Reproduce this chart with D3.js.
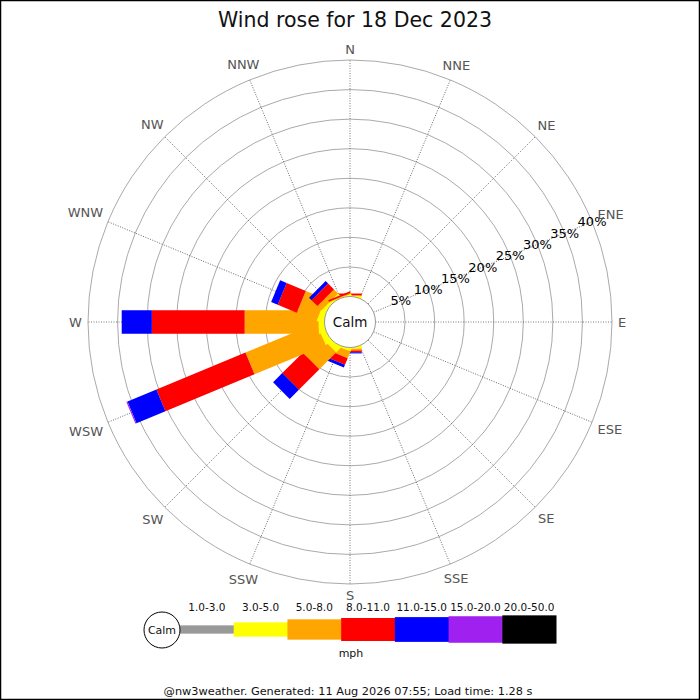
<!DOCTYPE html>
<html>
<head>
<meta charset="utf-8">
<script src="https://cdn.jsdelivr.net/npm/d3@7"></script>
<style>
  body { margin: 0; background: #fff; }
  svg { display: block; font-family: "DejaVu Sans", sans-serif; }
</style>
</head>
<body>
<div id="chart"></div>
<script>
// Wind rose, 18 Dec 2023 - percentages of time per direction and speed band
const titleText = 'Wind rose for 18 Dec 2023';
const footerText = '@nw3weather. Generated: 11 Aug 2026 07:55; Load time: 1.28 s';
const calmText = 'Calm';
const unitText = 'mph';

const directions = ['N', 'NNE', 'NE', 'ENE', 'E', 'ESE', 'SE', 'SSE',
    'S', 'SSW', 'SW', 'WSW', 'W', 'WNW', 'NW', 'NNW'];
const speedBins = ['1.0-3.0', '3.0-5.0', '5.0-8.0', '8.0-11.0',
    '11.0-15.0', '15.0-20.0', '20.0-50.0'];
const binColors = ['#999999', '#ffff00', '#ffa500', '#ff0000',
    '#0000ff', '#a020f0', '#000000'];

// series values, one entry per direction (N .. NNW), in %
const pct1to3 =   [0,   0, 0, 0, 0, 0, 0, 0, 0,   0,   0,   0,    0,    0,   0,   0];
const pct3to5 =   [0.1, 0, 0, 0, 0, 0, 0, 0, 0.2, 0.3, 1.0, 1.0,  1.0,  1.0, 0.5, 0.1];
const pct5to8 =   [0.1, 0, 0, 0, 0, 0, 0, 0, 0.3, 1.2, 4.0, 13.0, 12.5, 3.6, 1.0, 0.1];
const pct8to11 =  [0.3, 0, 0, 0, 0, 0, 0, 0, 0.3, 1.2, 4.9, 16.3, 15.7, 3.5, 1.4, 0.3];
const pct11to15 = [0,   0, 0, 0, 0, 0, 0, 0, 0.2, 0.5, 2.2, 5.3,  5.1,  1.2, 0.6, 0];
const pct15to20 = [0,   0, 0, 0, 0, 0, 0, 0, 0,   0,   0,   0.2,  0,    0,   0,   0];
const pct20to50 = [0,   0, 0, 0, 0, 0, 0, 0, 0,   0,   0,   0,    0,    0,   0,   0];

const ringTicks = [5, 10, 15, 20, 25, 30, 35, 40];
const ringLabels = ['5%', '10%', '15%', '20%', '25%', '30%', '35%', '40%'];

// layout
const width = 700;
const height = 700;
const cx = 350;
const cy = 322;
const calmRadius = 25.5;
const outerRadius = 262;
const barWidth = 23.5;

const series = [pct1to3, pct3to5, pct5to8, pct8to11, pct11to15, pct15to20, pct20to50];
const rows = directions.map((dir, i) => {
    const row = {dir};
    speedBins.forEach((bin, k) => { row[bin] = series[k][i]; });
    return row;
});

const rScale = d3.scaleLinear()
    .domain([0, d3.max(ringTicks)])
    .range([calmRadius, outerRadius]);

const angleScale = d3.scalePoint()
    .domain(directions)
    .range([0, 337.5]);

const colorScale = d3.scaleOrdinal()
    .domain(speedBins)
    .range(binColors);

const stacked = d3.stack().keys(speedBins)(rows);

const svg = d3.select('#chart')
  .append('svg')
    .attr('width', width)
    .attr('height', height);

svg.append('rect')
    .attr('x', 0.5).attr('y', 0.5)
    .attr('width', width - 1).attr('height', height - 1)
    .attr('fill', '#fff')
    .attr('stroke', '#000')
    .attr('stroke-width', 1.5);

svg.append('text')
    .attr('x', 355)
    .attr('y', 26.5)
    .attr('text-anchor', 'middle')
    .attr('font-size', 20.5)
    .attr('fill', '#111')
    .text(titleText);

const rose = svg.append('g')
    .attr('transform', `translate(${cx},${cy})`);

// rings
rose.append('g').selectAll('circle')
    .data(ringTicks)
  .join('circle')
    .attr('r', d => rScale(d))
    .attr('fill', 'none')
    .attr('stroke', '#aaa')
    .attr('stroke-width', 1);

// spokes
rose.append('g').selectAll('line')
    .data(directions)
  .join('line')
    .attr('transform', d => `rotate(${angleScale(d) - 90})`)
    .attr('x1', calmRadius)
    .attr('x2', outerRadius)
    .attr('stroke', '#555')
    .attr('stroke-width', 0.8)
    .attr('stroke-dasharray', '1,1.5');

// bars
const barGroups = rose.append('g').selectAll('g')
    .data(directions)
  .join('g')
    .attr('transform', d => `rotate(${angleScale(d) - 90})`);

barGroups.each(function(dir, i) {
    const segs = stacked
        .map((layer, k) => ({key: speedBins[k], lo: layer[i][0], hi: layer[i][1], k}))
        .filter(s => s.hi > s.lo);
    const start = s => (s.k === 0 || s.lo === 0 ? 0 : rScale(s.lo));
    d3.select(this).selectAll('rect')
        .data(segs)
      .join('rect')
        .attr('x', start)
        .attr('y', -barWidth / 2)
        .attr('width', s => rScale(s.hi) - start(s))
        .attr('height', barWidth)
        .attr('fill', s => colorScale(s.key));
});

// calm circle
rose.append('circle')
    .attr('r', calmRadius)
    .attr('fill', '#fff')
    .attr('stroke', '#999')
    .attr('stroke-width', 1);

rose.append('text')
    .attr('text-anchor', 'middle')
    .attr('dominant-baseline', 'central')
    .attr('font-size', 13.5)
    .attr('fill', '#111')
    .text(calmText);

// ring labels along ENE
const labelAngle = angleScale('ENE') * Math.PI / 180;
rose.append('g').selectAll('text')
    .data(ringTicks)
  .join('text')
    .attr('x', d => rScale(d) * Math.sin(labelAngle))
    .attr('y', d => -rScale(d) * Math.cos(labelAngle))
    .attr('text-anchor', 'middle')
    .attr('dominant-baseline', 'central')
    .attr('font-size', 13)
    .attr('fill', '#000')
    .text((d, i) => ringLabels[i]);

// compass labels
rose.append('g').selectAll('text')
    .data(directions)
  .join('text')
    .attr('text-anchor', 'middle')
    .attr('dominant-baseline', 'central')
    .attr('font-size', 13)
    .attr('fill', '#555')
    .text(d => d)
    .each(function(d) {
        const a = angleScale(d) * Math.PI / 180;
        const box = this.getBBox();
        const r = outerRadius + 6 + box.width / 2 * Math.abs(Math.sin(a)) + 5 * Math.abs(Math.cos(a));
        d3.select(this)
            .attr('x', r * Math.sin(a))
            .attr('y', -r * Math.cos(a));
    });

// legend
const legendY = 629.5;
const legendX = d3.scaleBand()
    .domain(speedBins)
    .range([180, 556]);
const legendH = d3.scaleLinear()
    .domain([0, 2, 3, 6])
    .range([8.3, 20.3, 23, 28.3]);

const legend = svg.append('g');

legend.selectAll('rect')
    .data(speedBins)
  .join('rect')
    .attr('x', d => legendX(d))
    .attr('y', (d, i) => legendY - legendH(i) / 2)
    .attr('width', legendX.bandwidth() + 0.5)
    .attr('height', (d, i) => legendH(i))
    .attr('fill', d => colorScale(d));

legend.selectAll('text.bin')
    .data(speedBins)
  .join('text')
    .attr('class', 'bin')
    .attr('x', d => legendX(d) + legendX.bandwidth() / 2)
    .attr('y', 611)
    .attr('text-anchor', 'middle')
    .attr('font-size', 10.5)
    .attr('fill', '#111')
    .text(d => d);

legend.append('circle')
    .attr('cx', 162)
    .attr('cy', legendY + 0.5)
    .attr('r', 18)
    .attr('fill', '#fff')
    .attr('stroke', '#000')
    .attr('stroke-width', 1);

legend.append('text')
    .attr('x', 162)
    .attr('y', legendY + 0.5)
    .attr('text-anchor', 'middle')
    .attr('dominant-baseline', 'central')
    .attr('font-size', 11)
    .attr('fill', '#111')
    .text(calmText);

legend.append('text')
    .attr('x', 351)
    .attr('y', 657)
    .attr('text-anchor', 'middle')
    .attr('font-size', 11)
    .attr('fill', '#111')
    .text(unitText);

svg.append('text')
    .attr('x', 348)
    .attr('y', 695)
    .attr('text-anchor', 'middle')
    .attr('font-size', 11.3)
    .attr('fill', '#111')
    .text(footerText);
</script>
</body>
</html>
